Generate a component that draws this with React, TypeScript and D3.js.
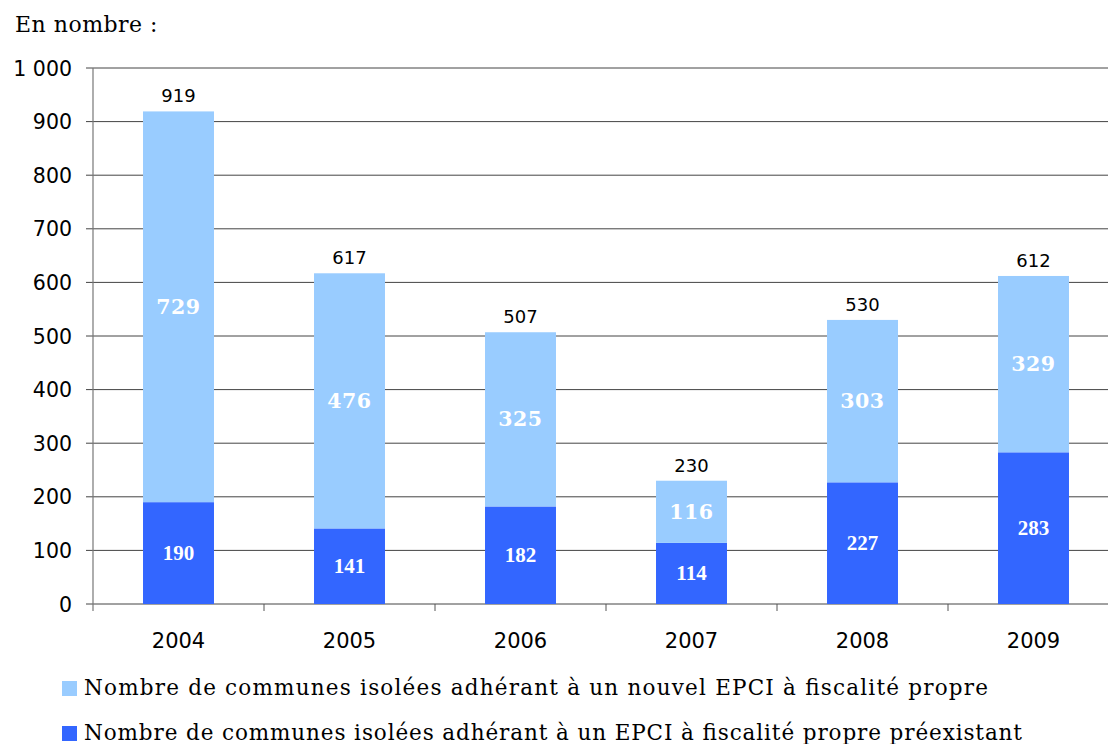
import React from "react";
import * as d3 from "d3";

const years = ["2004", "2005", "2006", "2007", "2008", "2009"];
const preexistant = [190, 141, 182, 114, 227, 283];
const nouvel = [729, 476, 325, 116, 303, 329];
const yTicks = [0, 100, 200, 300, 400, 500, 600, 700, 800, 900, 1000];
const legendLabels = [
  "Nombre de communes isolées adhérant à un nouvel EPCI à fiscalité propre",
  "Nombre de communes isolées adhérant à un EPCI à fiscalité propre préexistant",
];
const LIGHT = "#99CCFF";
const DARK = "#3366FF";

const fmt = (v: number) => (v >= 1000 ? d3.format(",")(v).replace(",", " ") : String(v));

export default function App() {
  const W = 1108, H = 744;
  const x0 = 93, x1 = 1119, yTop = 68, yBot = 604;
  const x = d3.scaleBand<string>().domain(years).range([x0, x1]).paddingInner(0.585).paddingOuter(0.2925);
  const y = d3.scaleLinear().domain([0, 1000]).range([yBot, yTop]);
  const serif = "'DejaVu Serif', serif";
  const sans = "'DejaVu Sans', sans-serif";
  const bandStep = (x1 - x0) / years.length;
  const legendWidths = [904, 938];
  return (
    <svg width={W} height={H} style={{ position: "absolute", left: 0, top: 0, background: "#fff" }}>
      <text x={15} y={32} fontFamily={serif} fontSize={22} letterSpacing={0.5} fill="#000">En nombre :</text>
      {yTicks.map((t) => (
        <g key={t}>
          <line x1={86} x2={W} y1={y(t)} y2={y(t)} stroke="#444" strokeWidth={1} />
          <text x={72} y={y(t) + 7.5} textAnchor="end" fontFamily={sans} fontSize={20.5} fill="#000">{fmt(t)}</text>
        </g>
      ))}
      <line x1={x0} x2={x0} y1={yTop} y2={yBot + 7} stroke="#777" strokeWidth={1.2} />
      {years.map((_, i) => (
        <line key={i} x1={x0 + bandStep * (i + 1)} x2={x0 + bandStep * (i + 1)} y1={yBot} y2={yBot + 7} stroke="#555" />
      ))}
      {years.map((yr, i) => {
        const bx = x(yr)!;
        const bw = x.bandwidth();
        const cx = bx + bw / 2;
        const total = preexistant[i] + nouvel[i];
        return (
          <g key={yr}>
            <rect x={bx} y={y(preexistant[i])} width={bw} height={y(0) - y(preexistant[i])} fill={DARK} />
            <rect x={bx} y={y(total)} width={bw} height={y(preexistant[i]) - y(total)} fill={LIGHT} />
            <text x={cx} y={y(preexistant[i] / 2) + 6.5} textAnchor="middle" fontFamily="'Liberation Serif', serif" fontWeight="bold" fontSize={21} fill="#fff">{preexistant[i]}</text>
            <text x={cx} y={y(preexistant[i] + nouvel[i] / 2) + 7} textAnchor="middle" fontFamily={serif} fontWeight="bold" fontSize={20.5} letterSpacing={0.5} fill="#fff">{nouvel[i]}</text>
            <text x={cx} y={y(total) - 9} textAnchor="middle" fontFamily={sans} fontSize={18} fill="#000">{total}</text>
            <text x={cx} y={648} textAnchor="middle" fontFamily={sans} fontSize={21} fill="#000">{yr}</text>
          </g>
        );
      })}
      {legendLabels.map((l, i) => (
        <g key={i}>
          <rect x={62} y={681 + i * 45} width={15} height={15} fill={i === 0 ? LIGHT : DARK} />
          <text x={84} y={695 + i * 45} fontFamily={serif} fontSize={21.5} textLength={legendWidths[i]} lengthAdjust="spacing" fill="#000">{l}</text>
        </g>
      ))}
    </svg>
  );
}
